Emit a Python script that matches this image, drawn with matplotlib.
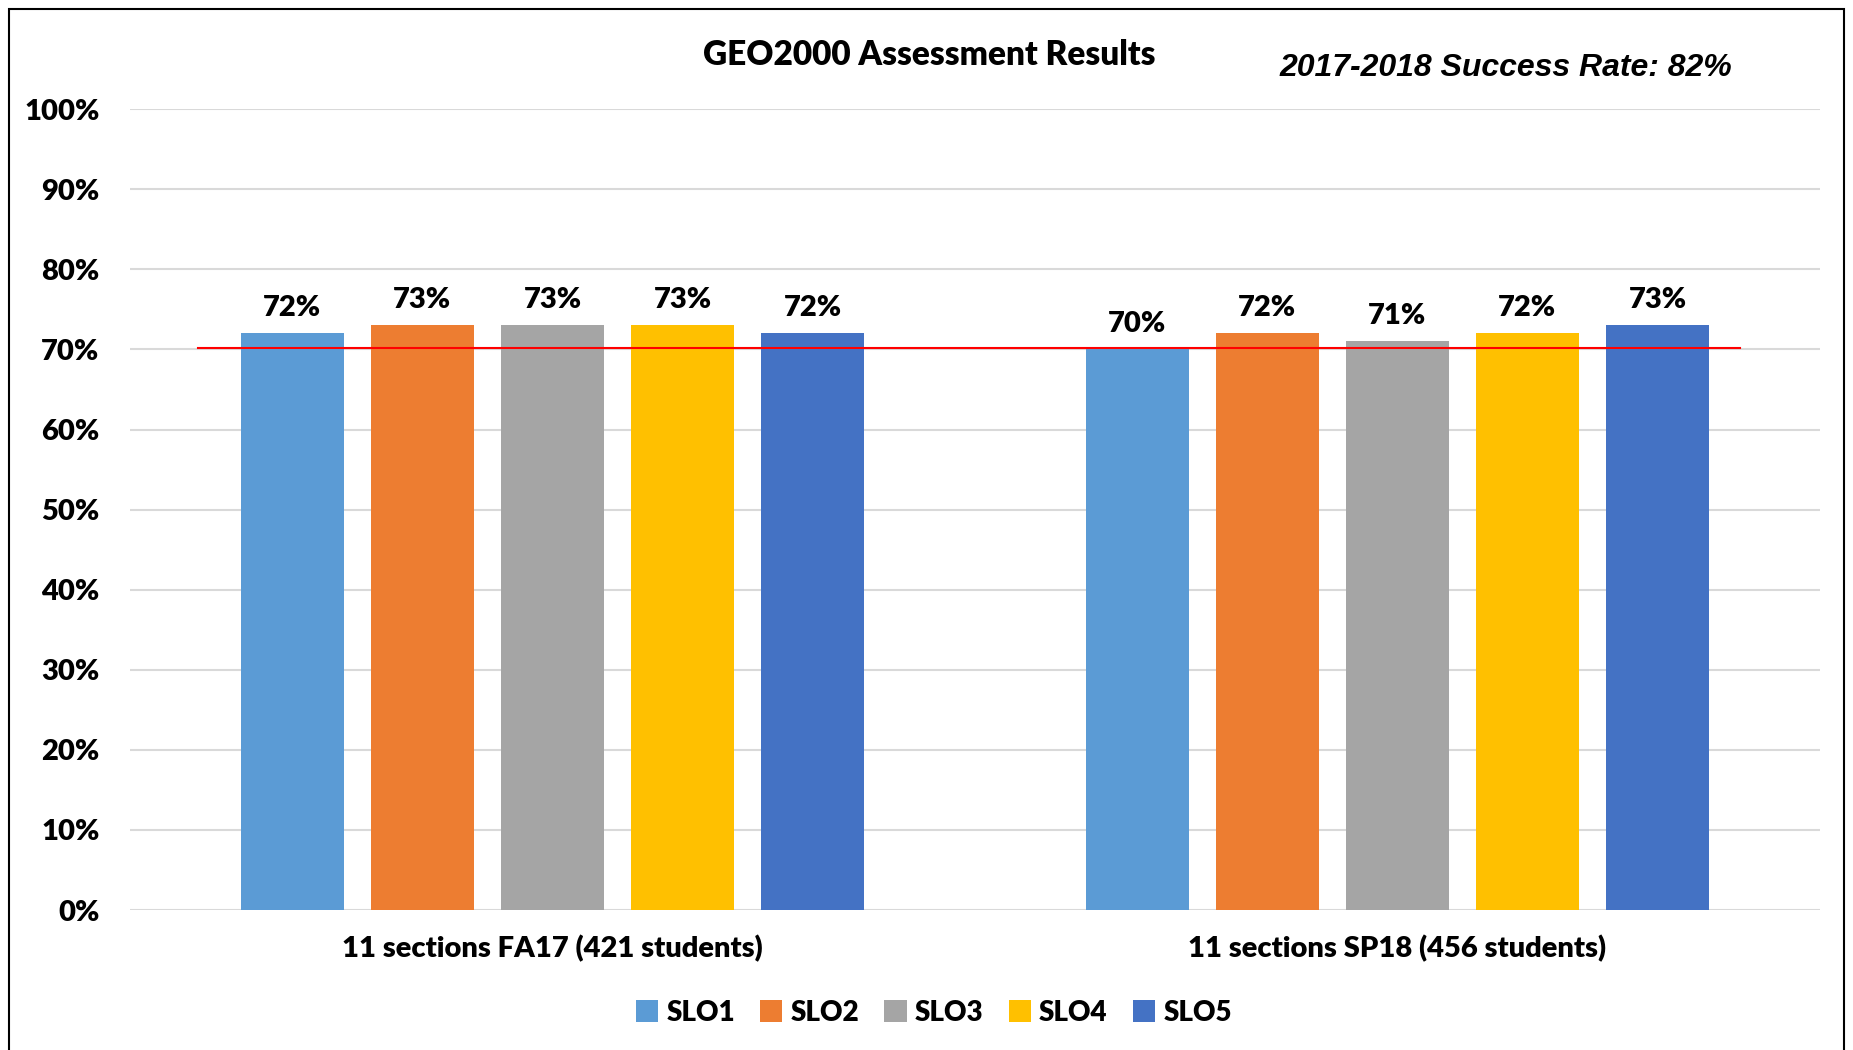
import numpy as np
import matplotlib
matplotlib.use("Agg")
import matplotlib.pyplot as plt
from matplotlib.patches import Rectangle

groups = ["11 sections FA17 (421 students)", "11 sections SP18 (456 students)"]
series = ["SLO1", "SLO2", "SLO3", "SLO4", "SLO5"]
fa17 = [72, 73, 73, 73, 72]
sp18 = [70, 72, 71, 72, 73]
target = 70.2
colors = ["#5B9BD5", "#ED7D31", "#A5A5A5", "#FFC000", "#4472C4"]

values = np.array([fa17, sp18])  # rows = groups
fw = "heavy"

fig = plt.figure(figsize=(18.53, 10.5), dpi=100)
ax = fig.add_axes([0.0702, 0.1333, 0.9118, 0.7627])

x = np.arange(len(groups))
step = 0.154
width = 0.122
for i, name in enumerate(series):
    pos = x + (i - 2) * step
    bars = ax.bar(pos, values[:, i], width, color=colors[i], label=name, zorder=2)
    for b, v in zip(bars, values[:, i]):
        ax.text(b.get_x() + b.get_width() / 2, v + 1.6, f"{v}%", ha="center", va="bottom",
                fontsize=21, fontweight=fw, family="Lato")

ax.axhline(target, xmin=0.04, xmax=0.953, color="red", lw=1.5, zorder=3)

ax.set_xlim(-0.5, 1.5)
ax.set_ylim(0, 100)
ax.set_yticks(range(0, 101, 10))
ax.set_yticklabels([f"{t}%" for t in range(0, 101, 10)], fontsize=21, fontweight=fw, family="Lato")
ax.set_xticks(x)
ax.set_xticklabels(groups, fontsize=21, fontweight=fw, family="Lato")
ax.tick_params(axis="x", length=0, pad=18)
ax.tick_params(axis="y", length=0, pad=22)
ax.grid(axis="y", color="#D9D9D9", lw=1.5, zorder=0)
for s in ax.spines.values():
    s.set_visible(False)

fig.text(0.5015, 0.948, "GEO2000 Assessment Results", ha="center", va="center",
         fontsize=24, fontweight=fw, family="Lato")
fig.text(0.8125, 0.935, "2017-2018 Success Rate: 82%", ha="center", va="center",
         fontsize=23, fontweight="bold", style="italic", family="Liberation Sans")

leg = fig.legend(loc="center", bbox_to_anchor=(0.504, 0.0355), ncol=5, frameon=False,
                 prop={"family": "Lato", "weight": fw, "size": 20},
                 handlelength=0.8, handleheight=0.8, handletextpad=0.3, columnspacing=0.9)

fig.patches.append(Rectangle((0.0048, -0.05), 0.9903, 1.0415, transform=fig.transFigure,
                             fill=False, edgecolor="black", lw=1.5))

fig.savefig("out.png", dpi=100)
